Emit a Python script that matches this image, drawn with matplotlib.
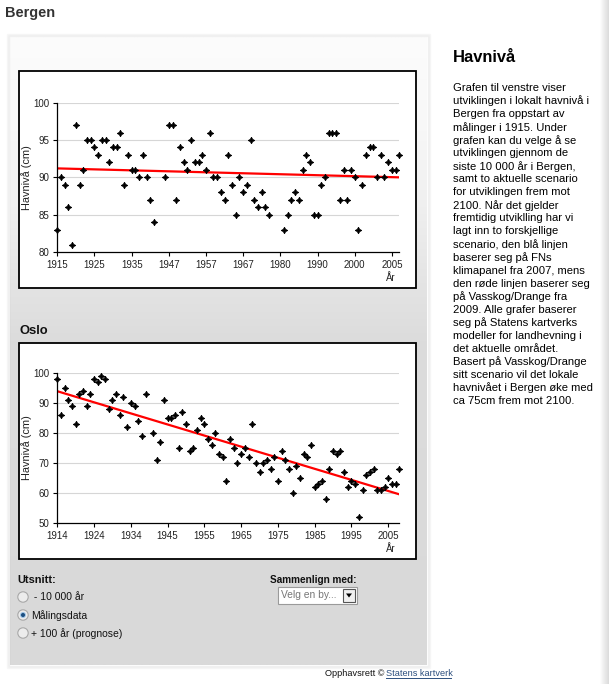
import numpy as np
import matplotlib
matplotlib.use('Agg')
import matplotlib.pyplot as plt
from matplotlib import font_manager
from matplotlib.patches import Rectangle, Circle, Polygon

# ---------------- data ----------------
bergen_years = list(range(1915, 1942)) + list(range(1944, 1973)) + list(range(1976, 2008))
bergen_level = [83, 90, 89, 86, 81, 97, 89, 91, 95, 95, 94, 93, 95, 95, 92, 94, 94, 96, 89, 93,
                91, 91, 90, 93, 90, 87, 84,
                90, 97, 97, 87, 94, 92, 91, 95, 92, 92, 93, 91, 96, 90, 90,
                88, 87, 93, 89, 85, 90, 88, 89, 95, 87, 86, 88, 86, 85,
                83, 85, 87, 88, 87, 91, 93, 92, 85, 85, 89, 90, 96, 96, 96, 87, 91, 87, 91, 90,
                83, 89, 93, 94, 94, 90, 93, 90, 92, 91, 91, 93]
bergen_trend_years = [1915, 2007]
bergen_trend = [91.2, 90.0]
bergen_tick_pos = [1915, 1925, 1935, 1945, 1955, 1965, 1975, 1985, 1995, 2005]
bergen_tick_labels = ['1915', '1925', '1935', '1947', '1957', '1967', '1980', '1990', '2000', '2005']
bergen_yticks = [80, 85, 90, 95, 100]

oslo_years = list(range(1914, 1939)) + list(range(1940, 2008))
oslo_level = [98, 86, 95, 91, 89, 83, 93, 94, 89, 93, 98, 97, 99, 98, 88, 91, 93, 86, 92, 82,
              90, 89, 84, 79, 93,
              80, 71, 77, 91, 85, 85, 86, 75, 87, 83, 74, 75, 81, 85, 83, 78, 76, 80, 73,
              72, 64, 78, 75, 70, 73, 75, 72, 83, 70, 67, 70, 71, 68, 72, 64, 74, 71, 68, 60,
              69, 65, 73, 72, 76, 62, 63, 64, 58, 68, 74, 73, 74, 67, 62, 64, 63, 52, 61, 66,
              67, 68, 61, 61, 62, 65, 63, 63, 68]
oslo_trend_years = [1914, 2007]
oslo_trend = [94.0, 59.5]
oslo_tick_pos = [1914, 1924, 1934, 1944, 1954, 1964, 1974, 1984, 1994, 2004]
oslo_tick_labels = ['1914', '1924', '1934', '1945', '1955', '1965', '1975', '1985', '1995', '2005']
oslo_yticks = [50, 60, 70, 80, 90, 100]

info_lines = [
    "Grafen til venstre viser",
    "utviklingen i lokalt havnivå i",
    "Bergen fra oppstart av",
    "målinger i 1915. Under",
    "grafen kan du velge å se",
    "utviklingen gjennom de",
    "siste 10 000 år i Bergen,",
    "samt to aktuelle scenario",
    "for utviklingen frem mot",
    "2100. Når det gjelder",
    "fremtidig utviklling har vi",
    "lagt inn to forskjellige",
    "scenario, den blå linjen",
    "baserer seg på FNs",
    "klimapanel fra 2007, mens",
    "den røde linjen baserer seg",
    "på Vasskog/Drange fra",
    "2009. Alle grafer baserer",
    "seg på Statens kartverks",
    "modeller for landhevning i",
    "det aktuelle området.",
    "Basert på Vasskog/Drange",
    "sitt scenario vil det lokale",
    "havnivået i Bergen øke med",
    "ca 75cm frem mot 2100.",
]
radio_labels = [" - 10 000 år", "Målingsdata", "+ 100 år (prognose)"]
radio_selected = 1

# ---------------- setup ----------------
W, H = 609, 684
fig = plt.figure(figsize=(W / 100, H / 100), dpi=100)
fig.patch.set_facecolor('white')

names = {f.name for f in font_manager.fontManager.ttflist}
SANS = 'Liberation Sans'
NARROW = 'Liberation Sans Narrow' if 'Liberation Sans Narrow' in names else SANS

def px(v):
    return v * 72 / 100.0

def rect(x0, y0, x1, y1):
    return [x0 / W, 1 - y1 / H, (x1 - x0) / W, (y1 - y0) / H]

bg = fig.add_axes([0, 0, 1, 1])
bg.set_xlim(0, W)
bg.set_ylim(H, 0)
bg.axis('off')

# panel shadow
for i, a in enumerate([0.05, 0.04, 0.03]):
    d = i + 1
    bg.add_patch(Rectangle((10 - d, 37 - d), 417 + 2 * d, 628 + 2 * d, facecolor='none',
                           edgecolor='black', lw=1, alpha=a))
# panel gradient
ys = np.linspace(37, 665, 400)
vals = np.interp(ys, [37, 120, 200, 290, 340, 665], [252, 248, 240, 227, 220, 217]) / 255.0
grad = np.repeat(vals[:, None], 2, axis=1)
bg.imshow(np.dstack([grad, grad, grad]), extent=(10, 427, 665, 37), aspect='auto',
          interpolation='bilinear', zorder=0)

# right page edge shadow
xs = np.linspace(0, 1, 50)
edge = np.interp(xs, [0, 0.3, 1], [1.0, 0.95, 0.86])
bg.imshow(np.dstack([np.tile(edge, (2, 1))] * 3), extent=(600, 609, H, 0), aspect='auto',
          interpolation='bilinear', zorder=0)

# chart boxes
for (x0, y0, x1, y1) in [(19, 71, 416, 288), (19, 343, 416, 559)]:
    bg.add_patch(Rectangle((x0, y0), x1 - x0, y1 - y0, facecolor='white', edgecolor='black',
                           lw=1.3, zorder=1))

# headings
bg.text(5, 13, "Bergen", fontsize=px(14.5), fontweight='bold', color='#333333',
        family=SANS, va='center', ha='left')
bg.text(19, 331, "Oslo", fontsize=px(13), fontweight='bold', color='#111111',
        family=SANS, va='center', ha='left')
bg.text(453, 57, "Havnivå", fontsize=px(16.5), fontweight='bold', color='black',
        family=SANS, va='center', ha='left')
for i, line in enumerate(info_lines):
    bg.text(453, 88 + 13.04 * i, line, fontsize=px(11.3), color='black', family=SANS,
            va='center', ha='left')

# controls
bg.text(17, 580, "Utsnitt:", fontsize=px(11), fontweight='bold', color='#111111',
        family=NARROW, va='center', ha='left')
radio_y = [597, 615, 633]
for i, (lab, ry) in enumerate(zip(radio_labels, radio_y)):
    bg.add_patch(Circle((23, ry), 5.2, facecolor='#ececec', edgecolor='#a8a8a8', lw=0.8, zorder=2))
    if i == radio_selected:
        bg.add_patch(Circle((23, ry), 3.0, facecolor='#9cc3e6', edgecolor='none', zorder=3))
        bg.add_patch(Circle((23, ry), 2.0, facecolor='#1d4f80', edgecolor='none', zorder=4))
    bg.text(31, ry + 0.5, lab, fontsize=px(10.4), color='#111111', family=NARROW,
            va='center', ha='left')

bg.text(357, 580, "Sammenlign med:", fontsize=px(10), fontweight='bold', color='#111111',
        family=NARROW, va='center', ha='right')
bg.add_patch(Rectangle((278, 587), 79, 17, facecolor='white', edgecolor='#9a9a9a', lw=0.8, zorder=2))
bg.text(281, 595.5, "Velg en by...", fontsize=px(10.3), color='#777777', family=NARROW,
        va='center', ha='left', zorder=3)
bg.add_patch(Rectangle((343, 589), 12, 13, facecolor='#f0f0f0', edgecolor='#555555', lw=0.8, zorder=3))
bg.add_patch(Polygon([[346, 593.5], [352, 593.5], [349, 597.5]], closed=True,
                     facecolor='black', edgecolor='none', zorder=4))

# copyright
bg.text(325, 673, "Opphavsrett ©", fontsize=px(9.2), color='#111111', family=NARROW,
        va='center', ha='left')
bg.text(386, 673, "Statens kartverk", fontsize=px(9.2), color='#2c4f7f', family=NARROW,
        va='center', ha='left')
bg.plot([386, 451], [678, 678], color='#2c4f7f', lw=0.7)

# ---------------- charts ----------------
def make_chart(box, years, level, ty, tv, tpos, tlabs, yticks, xlim, ylim):
    ax = fig.add_axes(rect(*box))
    ax.set_facecolor('none')
    ax.set_xlim(*xlim)
    ax.set_ylim(*ylim)
    for s in ['top', 'right']:
        ax.spines[s].set_visible(False)
    for s in ['left', 'bottom']:
        ax.spines[s].set_color('black')
        ax.spines[s].set_linewidth(0.9)
    ax.set_yticks(yticks)
    ax.set_xticks(tpos)
    ax.set_xticklabels(tlabs)
    ax.tick_params(axis='both', direction='out', length=3, width=0.8, color='black',
                   labelsize=px(9.8), labelcolor='#222222')
    ax.tick_params(axis='x', pad=3)
    ax.tick_params(axis='y', pad=3)
    for lab in ax.get_xticklabels() + ax.get_yticklabels():
        lab.set_family(SANS)
    for yv in yticks:
        if yv != ylim[0]:
            ax.axhline(yv, color='#d6d6d6', lw=0.8, zorder=0)
    ax.plot(ty, tv, color='#ff0000', lw=1.6, zorder=2, solid_capstyle='butt')
    ax.plot(years, level, linestyle='none', marker=(4, 1, 0), markersize=4.8,
            color='black', markeredgewidth=0.5, zorder=3, clip_on=False)
    ax.set_ylabel("Havnivå (cm)", family=SANS, fontsize=px(11), color='#222222')
    ax.yaxis.set_label_coords((32 - box[0]) / (box[2] - box[0]), 0.5)
    return ax

ax1 = make_chart((57.3, 102.7, 399.3, 252.0), bergen_years, bergen_level,
                 bergen_trend_years, bergen_trend, bergen_tick_pos, bergen_tick_labels,
                 bergen_yticks, (1915, 2007), (80, 100))
ax2 = make_chart((57.3, 373.3, 399.3, 522.7), oslo_years, oslo_level,
                 oslo_trend_years, oslo_trend, oslo_tick_pos, oslo_tick_labels,
                 oslo_yticks, (1914, 2007), (50, 100))

bg.text(391, 278, "År", fontsize=px(9.6), color='#222222', family=SANS, va='center', ha='center')
bg.text(391, 548.5, "År", fontsize=px(9.6), color='#222222', family=SANS, va='center', ha='center')

fig.savefig('out.png', dpi=100, facecolor='white')
